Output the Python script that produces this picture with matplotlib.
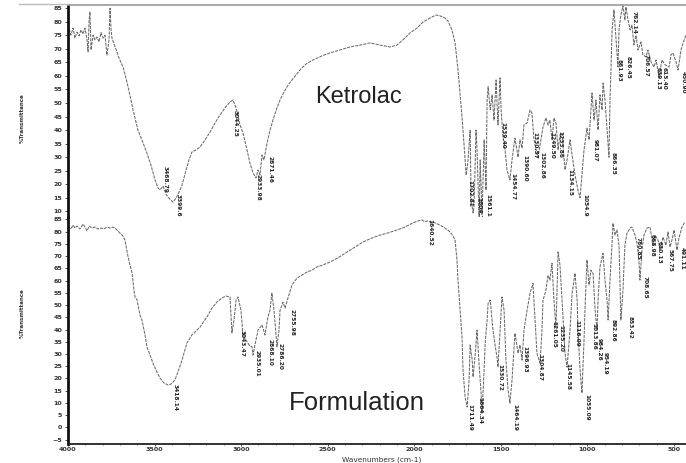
import numpy as np
import matplotlib.pyplot as plt
from matplotlib.lines import Line2D
from matplotlib.ticker import MultipleLocator

# FTIR spectra (wavenumber cm-1, %T)
ket_wn = [4000, 3983, 3971, 3960, 3948, 3936, 3925, 3913, 3902, 3890, 3884, 3878, 3873, 3867,
          3855, 3844, 3832, 3821, 3809, 3798, 3786, 3775, 3763, 3757, 3751, 3746, 3728, 3717,
          3705, 3682, 3665, 3653, 3636, 3624, 3607, 3596, 3573, 3544, 3521, 3497, 3480, 3469,
          3451, 3434, 3411, 3393, 3376, 3359, 3341, 3318, 3301, 3284, 3260, 3237, 3208, 3179,
          3151, 3122, 3093, 3064, 3047, 3029, 3006, 2989, 2966, 2949, 2931, 2914, 2902, 2891,
          2879, 2868, 2850, 2833, 2816, 2793, 2775, 2752, 2735, 2706, 2660, 2625, 2585, 2533,
          2486, 2429, 2371, 2313, 2255, 2198, 2140, 2100, 2065, 2024, 1984, 1949, 1909, 1874,
          1851, 1822, 1805, 1782, 1764, 1747, 1735, 1724, 1712, 1700, 1689, 1677, 1671, 1660,
          1654, 1643, 1637, 1625, 1619, 1608, 1596, 1585, 1579, 1573, 1561, 1550, 1539, 1527,
          1516, 1504, 1498, 1487, 1475, 1464, 1447, 1435, 1418, 1400, 1389, 1377, 1366, 1348,
          1331, 1320, 1308, 1296, 1285, 1268, 1256, 1239, 1227, 1216, 1204, 1193, 1181, 1169,
          1158, 1146, 1129, 1117, 1100, 1088, 1071, 1054, 1042, 1031, 1019, 1002, 990, 973,
          961, 950, 938, 927, 915, 909, 898, 886, 875, 869, 863, 857, 846, 834, 823, 817, 806,
          794, 783, 777, 765, 753, 742, 731, 719, 707, 690, 679, 661, 650, 632, 615, 603, 586,
          569, 551, 528, 517, 505, 488, 476, 459, 447, 430]
ket_t = [78.8, 75.1, 77.7, 74.0, 76.2, 74.8, 77.0, 75.5, 77.7, 73.3, 68.9, 80.7, 83.6, 69.6,
         75.1, 73.3, 74.4, 72.6, 76.0, 74.0, 75.0, 67.7, 73.3, 85.0, 77.0, 74.0, 70.7, 68.9,
         66.6, 63.3, 59.2, 56.0, 51.1, 47.4, 43.0, 40.0, 36.4, 31.5, 27.1, 21.6, 18.6, 17.9,
         19.3, 16.3, 14.5, 13.4, 14.8, 17.0, 19.7, 25.2, 29.0, 31.9, 32.7, 33.8, 36.4, 39.3,
         42.6, 45.6, 48.2, 50.4, 51.1, 48.2, 41.9, 38.9, 32.7, 27.8, 24.2, 22.3, 25.3, 23.4,
         30.8, 29.0, 35.2, 40.0, 43.7, 48.2, 51.1, 54.1, 56.0, 58.5, 62.2, 64.4, 65.9, 67.4,
         68.5, 69.6, 70.7, 71.4, 72.2, 71.4, 70.7, 71.4, 73.3, 75.9, 77.7, 79.9, 81.4, 82.5,
         82.2, 81.4, 80.3, 77.0, 72.2, 62.2, 53.0, 44.9, 34.5, 23.4, 29.0, 40.0, 14.1, 9.4,
         12.3, 40.0, 32.7, 6.8, 29.0, 8.7, 36.4, 17.8, 51.1, 56.0, 47.6, 53.0, 43.7, 58.5,
         41.9, 59.3, 47.4, 37.5, 32.7, 25.3, 21.6, 29.0, 37.0, 30.0, 36.4, 33.4, 41.9, 42.6,
         47.4, 46.3, 36.4, 32.7, 30.0, 36.4, 41.1, 44.5, 41.9, 43.7, 36.4, 44.5, 42.6, 32.7,
         38.2, 38.9, 25.3, 29.0, 36.4, 30.8, 23.4, 17.8, 15.0, 23.4, 32.7, 40.7, 36.4, 53.7,
         43.7, 51.1, 40.0, 53.0, 47.4, 57.4, 51.1, 40.0, 30.0, 51.1, 63.3, 77.0, 84.4, 73.3,
         63.3, 77.0, 82.5, 86.0, 80.7, 85.5, 80.7, 77.0, 78.8, 71.4, 75.0, 69.6, 72.6, 67.8,
         67.0, 69.6, 65.2, 63.3, 65.9, 59.6, 65.9, 64.1, 63.3, 67.8, 68.5, 65.2, 62.2, 69.6,
         72.2, 75.1]

form_wn = [4000, 3983, 3971, 3960, 3948, 3931, 3913, 3902, 3890, 3878, 3861, 3844, 3827, 3809,
           3792, 3775, 3757, 3740, 3723, 3700, 3682, 3671, 3653, 3642, 3630, 3619, 3613, 3601,
           3584, 3573, 3555, 3544, 3526, 3509, 3486, 3469, 3446, 3422, 3405, 3382, 3365, 3341,
           3324, 3313, 3284, 3260, 3237, 3214, 3197, 3168, 3139, 3110, 3087, 3064, 3053, 3041,
           3029, 3018, 3001, 2989, 2972, 2954, 2937, 2931, 2920, 2902, 2879, 2862, 2845, 2833,
           2822, 2810, 2798, 2793, 2781, 2775, 2758, 2746, 2729, 2706, 2677, 2648, 2619, 2590,
           2562, 2527, 2486, 2440, 2388, 2342, 2296, 2244, 2198, 2151, 2099, 2053, 2007, 1978,
           1955, 1938, 1926, 1909, 1880, 1851, 1822, 1793, 1776, 1764, 1753, 1747, 1735, 1724,
           1718, 1706, 1694, 1683, 1677, 1665, 1660, 1648, 1637, 1625, 1613, 1608, 1596, 1590,
           1579, 1573, 1561, 1550, 1545, 1533, 1522, 1516, 1504, 1493, 1481, 1470, 1458, 1447,
           1435, 1418, 1400, 1389, 1377, 1366, 1348, 1331, 1314, 1302, 1291, 1273, 1262, 1256,
           1239, 1227, 1216, 1204, 1193, 1181, 1169, 1158, 1146, 1129, 1117, 1100, 1088, 1071,
           1059, 1054, 1042, 1031, 1019, 1013, 1002, 990, 979, 967, 955, 944, 938, 927, 909,
           898, 886, 880, 869, 857, 852, 840, 829, 817, 806, 794, 783, 771, 753, 742, 725, 713,
           702, 696, 684, 673, 655, 638, 621, 609, 592, 580, 563, 546, 534, 522, 511, 499, 482,
           471, 453, 436]
form_t = [81.9, 81.1, 82.7, 81.5, 82.3, 81.1, 83.1, 81.9, 80.3, 82.3, 81.5, 81.9, 81.1, 81.5,
          81.1, 81.9, 81.5, 81.9, 81.1, 79.5, 78.2, 76.6, 69.7, 66.4, 63.1, 56.2, 53.3, 52.1,
          45.9, 43.9, 37.8, 32.9, 29.6, 26.2, 22.6, 20.2, 18.2, 17.3, 17.7, 19.4, 22.6, 27.6,
          31.7, 34.5, 37.8, 39.4, 41.0, 43.5, 45.1, 48.8, 51.3, 52.9, 53.7, 53.3, 38.6, 43.9,
          52.1, 53.3, 48.0, 37.8, 35.7, 33.7, 32.9, 29.6, 33.7, 39.8, 41.9, 37.8, 45.1, 47.9,
          54.9, 47.9, 37.8, 32.9, 39.8, 47.9, 51.2, 48.8, 52.9, 58.2, 61.0, 62.3, 63.5, 64.3,
          65.6, 66.4, 67.6, 69.3, 71.7, 73.7, 75.8, 77.4, 78.6, 79.5, 80.7, 81.9, 83.6, 84.4,
          84.8, 84.0, 84.4, 84.0, 83.6, 82.7, 81.5, 79.9, 78.2, 76.6, 68.4, 60.2, 48.0, 37.0,
          23.5, 12.4, 8.3, 19.4, 33.7, 27.6, 20.6, 29.6, 39.8, 25.5, 13.3, 5.9, 23.5, 34.5,
          43.9, 50.7, 52.1, 43.9, 39.8, 33.7, 28.8, 24.7, 39.8, 53.3, 47.9, 27.5, 15.3, 9.9,
          19.4, 38.5, 30.3, 33.7, 27.5, 39.8, 47.9, 54.8, 58.9, 43.9, 30.3, 26.2, 39.8, 52.0,
          56.1, 62.2, 60.2, 67.1, 52.0, 41.0, 71.7, 66.4, 52.0, 30.3, 24.6, 39.8, 54.8, 63.0,
          52.0, 39.8, 23.5, 14.0, 35.7, 49.2, 68.4, 58.2, 64.3, 63.0, 47.9, 39.8, 52.0, 65.6,
          71.2, 60.2, 52.0, 43.9, 60.2, 75.4, 83.5, 78.6, 80.7, 74.5, 43.9, 56.1, 74.5, 79.3,
          81.5, 81.9, 78.6, 75.4, 68.4, 60.2, 72.5, 78.6, 81.5, 81.9, 74.5, 78.6, 76.6, 72.5,
          77.8, 74.5, 79.9, 73.7, 76.6, 80.7, 72.5, 77.4, 81.9, 84.0]

# peak labels: text, wavenumber, %T where the label sits
ket_peaks = ["3468.79", "3399.60", "3044.25", "2933.98", "2871.46", "1702.81", "1604.76",
             "1561.19", "1539.40", "1454.77", "1390.60", "1330.57", "1302.86", "1249.50",
             "1233.86", "1134.15", "1054.96", "981.07", "866.35", "861.93", "826.45",
             "762.14", "706.57", "639.13", "615.40", "450.90"]
ket_peak_wn = [3440, 3364, 3035, 2902, 2833, 1677, 1625, 1573, 1487, 1429, 1360, 1302, 1262,
               1204, 1158, 1100, 1013, 955, 852, 817, 765, 731, 661, 592, 557, 447]
ket_peak_t = [21.6, 11.6, 42.6, 19.0, 25.3, 16.7, 10.5, 11.5, 38.2, 19.0, 26.0, 34.5, 27.1,
              34.5, 34.5, 20.5, 11.6, 32.7, 27.8, 62.2, 63.3, 79.6, 64.0, 59.2, 59.2, 57.8]

form_peaks = ["3418.14", "3043.47", "2935.01", "2868.10", "2786.20", "2755.98", "1640.52",
              "1711.49", "1664.34", "1530.72", "1464.19", "1396.93", "1304.87", "1261.05",
              "1235.20", "1145.58", "1116.09", "1055.09", "1013.86", "984.26", "954.19",
              "892.86", "853.42", "780.85", "708.65", "668.98", "630.13", "567.75", "491.11"]
form_peak_wn = [3382, 2995, 2908, 2833, 2775, 2706, 1909, 1677, 1619, 1504, 1418, 1360, 1273,
                1192, 1155, 1111, 1060, 1002, 962, 930, 898, 852, 753, 707, 667, 626, 586,
                522, 453]
form_peak_t = [12.4, 34.5, 26.3, 30.8, 28.8, 42.7, 79.5, 4.2, 7.1, 20.6, 4.2, 27.6, 24.7, 37.8,
               36.5, 20.6, 38.5, 8.3, 37.0, 32.0, 26.0, 39.8, 41.0, 73.0, 57.4, 74.5, 71.7,
               68.4, 69.2]

line_col = '#6a6a6a'
txt_col = '#333333'
lab_size = 4.2
tick_size = 4.6

fig = plt.figure(figsize=(6.86, 4.63), dpi=100)
ax1 = fig.add_axes([0.0991, 0.5313, 0.9009, 0.4579])
ax2 = fig.add_axes([0.0991, 0.041, 0.9009, 0.4903])

ax1.plot(ket_wn, ket_t, color=line_col, lw=0.75, dashes=(3, 1))
ax2.plot(form_wn, form_t, color=line_col, lw=0.75, dashes=(3, 1))

for s, w, t in zip(ket_peaks, ket_peak_wn, ket_peak_t):
    ax1.text(w, t, s, rotation=270, fontsize=lab_size, color='#222222',
             ha='center', va='center', fontweight='bold', clip_on=True)
for s, w, t in zip(form_peaks, form_peak_wn, form_peak_t):
    ax2.text(w, t, s, rotation=270, fontsize=lab_size, color='#222222',
             ha='center', va='center', fontweight='bold', clip_on=True)

ax1.set_xlim(4000, 430)
ax2.set_xlim(4000, 430)
ax1.set_ylim(7.9, 86.2)
ax2.set_ylim(-6.8, 86)

ax1.set_yticks(np.arange(10, 86, 5))
ax2.set_yticks(np.arange(-5, 86, 5))
ax2.set_xticks([4000, 3500, 3000, 2500, 2000, 1500, 1000, 500])
ax2.xaxis.set_minor_locator(MultipleLocator(100))
ax1.set_xticks([])

for ax in (ax1, ax2):
    ax.tick_params(axis='y', labelsize=tick_size, length=2, width=0.6, pad=2,
                   colors=txt_col)
    ax.spines['right'].set_visible(False)
    ax.spines['left'].set_linewidth(2)
    ax.spines['left'].set_color('#111111')
    ax.patch.set_alpha(0)
    for lab in ax.get_yticklabels():
        lab.set_fontweight('bold')

ax2.tick_params(axis='x', labelsize=tick_size, length=1.5, width=0.6, pad=0.8, colors=txt_col)
ax2.tick_params(axis='x', which='minor', length=1.0, width=0.4)
for lab in ax2.get_xticklabels():
    lab.set_fontweight('bold')
ax1.spines['bottom'].set_visible(False)
ax1.spines['top'].set_color('#9a9a9a')
ax1.spines['top'].set_linewidth(1.2)
ax2.spines['top'].set_visible(False)
ax2.spines['bottom'].set_linewidth(1.3)
ax2.spines['bottom'].set_color('#222222')

# grey rule above the whole plot, as on the scan
fig.add_artist(Line2D([0.027, 0.0991], [0.9914, 0.9914], color='#bbbbbb', lw=1.0))

ax1.text(0.4705, 0.565, 'Ketrolac', transform=ax1.transAxes, fontsize=17,
         color='#222222', ha='center', va='center', family='Liberation Sans')
ax2.text(0.468, 0.18, 'Formulation', transform=ax2.transAxes, fontsize=18.5,
         color='#222222', ha='center', va='center', family='Liberation Sans')

fig.text(0.032, 0.745, '%Transmittance', rotation=90, fontsize=4, color=txt_col,
         ha='center', va='center', fontweight='bold')
fig.text(0.032, 0.324, '%Transmittance', rotation=90, fontsize=4, color=txt_col,
         ha='center', va='center', fontweight='bold')
fig.text(0.557, 0.008, 'Wavenumbers (cm-1)', fontsize=5.3, color=txt_col,
         ha='center', va='center')

plt.savefig('out.png', dpi=100)
